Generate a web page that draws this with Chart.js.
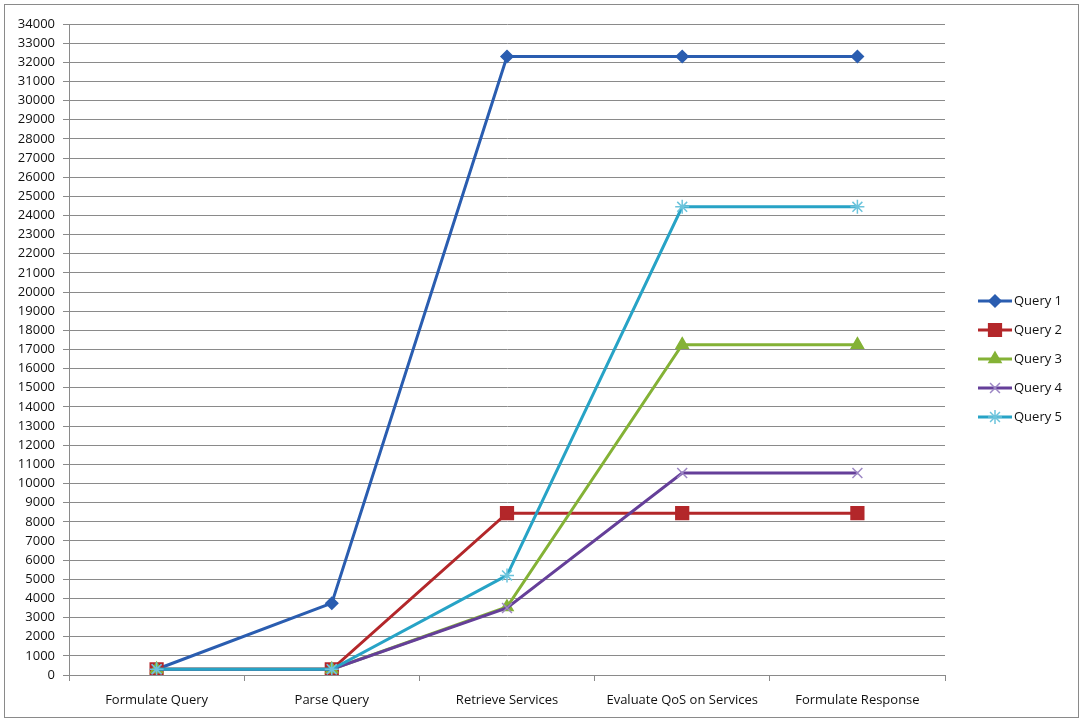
<!DOCTYPE html>
<html>
<head>
<meta charset="utf-8">
<script src="https://cdn.jsdelivr.net/npm/chart.js@4/dist/chart.umd.min.js"></script>
<style>
  html, body { margin: 0; padding: 0; background: #fff; }
  #wrap { width: 1084px; height: 722px; position: relative; }
</style>
</head>
<body>
<div id="wrap"><canvas id="lineChart" width="1084" height="722"></canvas></div>
<script>
// categories and series
var steps = ['Formulate Query', 'Parse Query', 'Retrieve Services', 'Evaluate QoS on Services', 'Formulate Response'];
var query1 = [300, 3750, 32300, 32300, 32300];
var query2 = [300, 300, 8450, 8450, 8450];
var query3 = [300, 300, 3550, 17250, 17250];
var query4 = [300, 300, 3500, 10550, 10550];
var query5 = [300, 300, 5200, 24450, 24450];
var seriesNames = ['Query 1', 'Query 2', 'Query 3', 'Query 4', 'Query 5'];
var yMin = 0, yMax = 34000, yStep = 1000;

var FONT = '"Open Sans", "Noto Sans", sans-serif';

function series(i, data, color, markerColor, style, radius) {
	return {
		label: seriesNames[i],
		data: data,
		borderColor: color,
		backgroundColor: color,
		borderWidth: 3,
		pointStyle: style,
		pointRadius: radius,
		pointHoverRadius: radius,
		pointBackgroundColor: markerColor,
		pointBorderColor: markerColor,
		pointBorderWidth: 1.5,
		tension: 0,
		fill: false,
		order: 4 - i
	};
}

// outer frame like the spreadsheet chart box
var framePlugin = {
	id: 'frame',
	beforeDraw: function (chart) {
		var ctx = chart.ctx;
		ctx.save();
		ctx.fillStyle = '#fff';
		ctx.fillRect(0, 0, chart.width, chart.height);
		ctx.strokeStyle = '#8a8a8a';
		ctx.lineWidth = 1;
		ctx.strokeRect(4.5, 4.5, 1074, 713);
		ctx.restore();
	}
};

// legend with line + marker, Excel style
var lineLegend = {
	id: 'lineLegend',
	afterDraw: function (chart) {
		var ctx = chart.ctx;
		var x0 = 978, x1 = 1012, yTop = 301, gap = 29;
		ctx.save();
		chart.data.datasets.forEach(function (ds, i) {
			var y = yTop + i * gap;
			ctx.strokeStyle = ds.borderColor;
			ctx.lineWidth = 3;
			ctx.beginPath();
			ctx.moveTo(x0, y);
			ctx.lineTo(x1, y);
			ctx.stroke();
			ctx.fillStyle = ds.pointBackgroundColor;
			ctx.strokeStyle = ds.pointBorderColor;
			ctx.lineWidth = 1.5;
			Chart.helpers.drawPoint(ctx, {
				pointStyle: ds.pointStyle,
				radius: ds.pointRadius,
				borderWidth: 1.5,
				rotation: 0
			}, (x0 + x1) / 2, y);
			ctx.fillStyle = '#111';
			ctx.font = '13px ' + FONT;
			ctx.textBaseline = 'middle';
			ctx.textAlign = 'left';
			ctx.fillText(ds.label, x1 + 2, y);
		});
		ctx.restore();
	}
};

new Chart(document.getElementById('lineChart'), {
	type: 'line',
	data: {
		labels: steps,
		datasets: [
			series(0, query1, '#2a5db0', '#2a5db0', 'rectRot', 6),
			series(1, query2, '#b3272a', '#b3272a', 'rect', 9),
			series(2, query3, '#84b236', '#84b236', 'triangle', 7),
			series(3, query4, '#653f99', '#9c86c4', 'crossRot', 7),
			series(4, query5, '#27a3c6', '#6cc4dc', 'star', 7)
		]
	},
	plugins: [framePlugin, lineLegend],
	options: {
		responsive: false,
		animation: false,
		layout: {
			padding: { left: 0, top: 24, right: 139, bottom: 0 }
		},
		plugins: {
			legend: { display: false },
			tooltip: { enabled: false },
			title: { display: false }
		},
		scales: {
			x: {
				offset: true,
				afterFit: function (s) { s.height = 47; },
				grid: {
					offset: true,
					drawOnChartArea: false,
					drawTicks: true,
					tickLength: 6,
					color: '#8a8a8a'
				},
				border: { color: '#8a8a8a', width: 1 },
				ticks: {
					color: '#111',
					padding: 11,
					maxRotation: 0,
					font: { family: FONT, size: 13 }
				}
			},
			y: {
				min: yMin,
				max: yMax,
				afterFit: function (s) { s.width = 69; },
				grid: {
					color: '#8a8a8a',
					tickLength: 6
				},
				border: { color: '#8a8a8a', width: 1 },
				ticks: {
					stepSize: yStep,
					autoSkip: false,
					color: '#111',
					padding: 8,
					font: { family: FONT, size: 13 },
					callback: function (v) { return String(v); }
				}
			}
		}
	}
});
</script>
</body>
</html>
